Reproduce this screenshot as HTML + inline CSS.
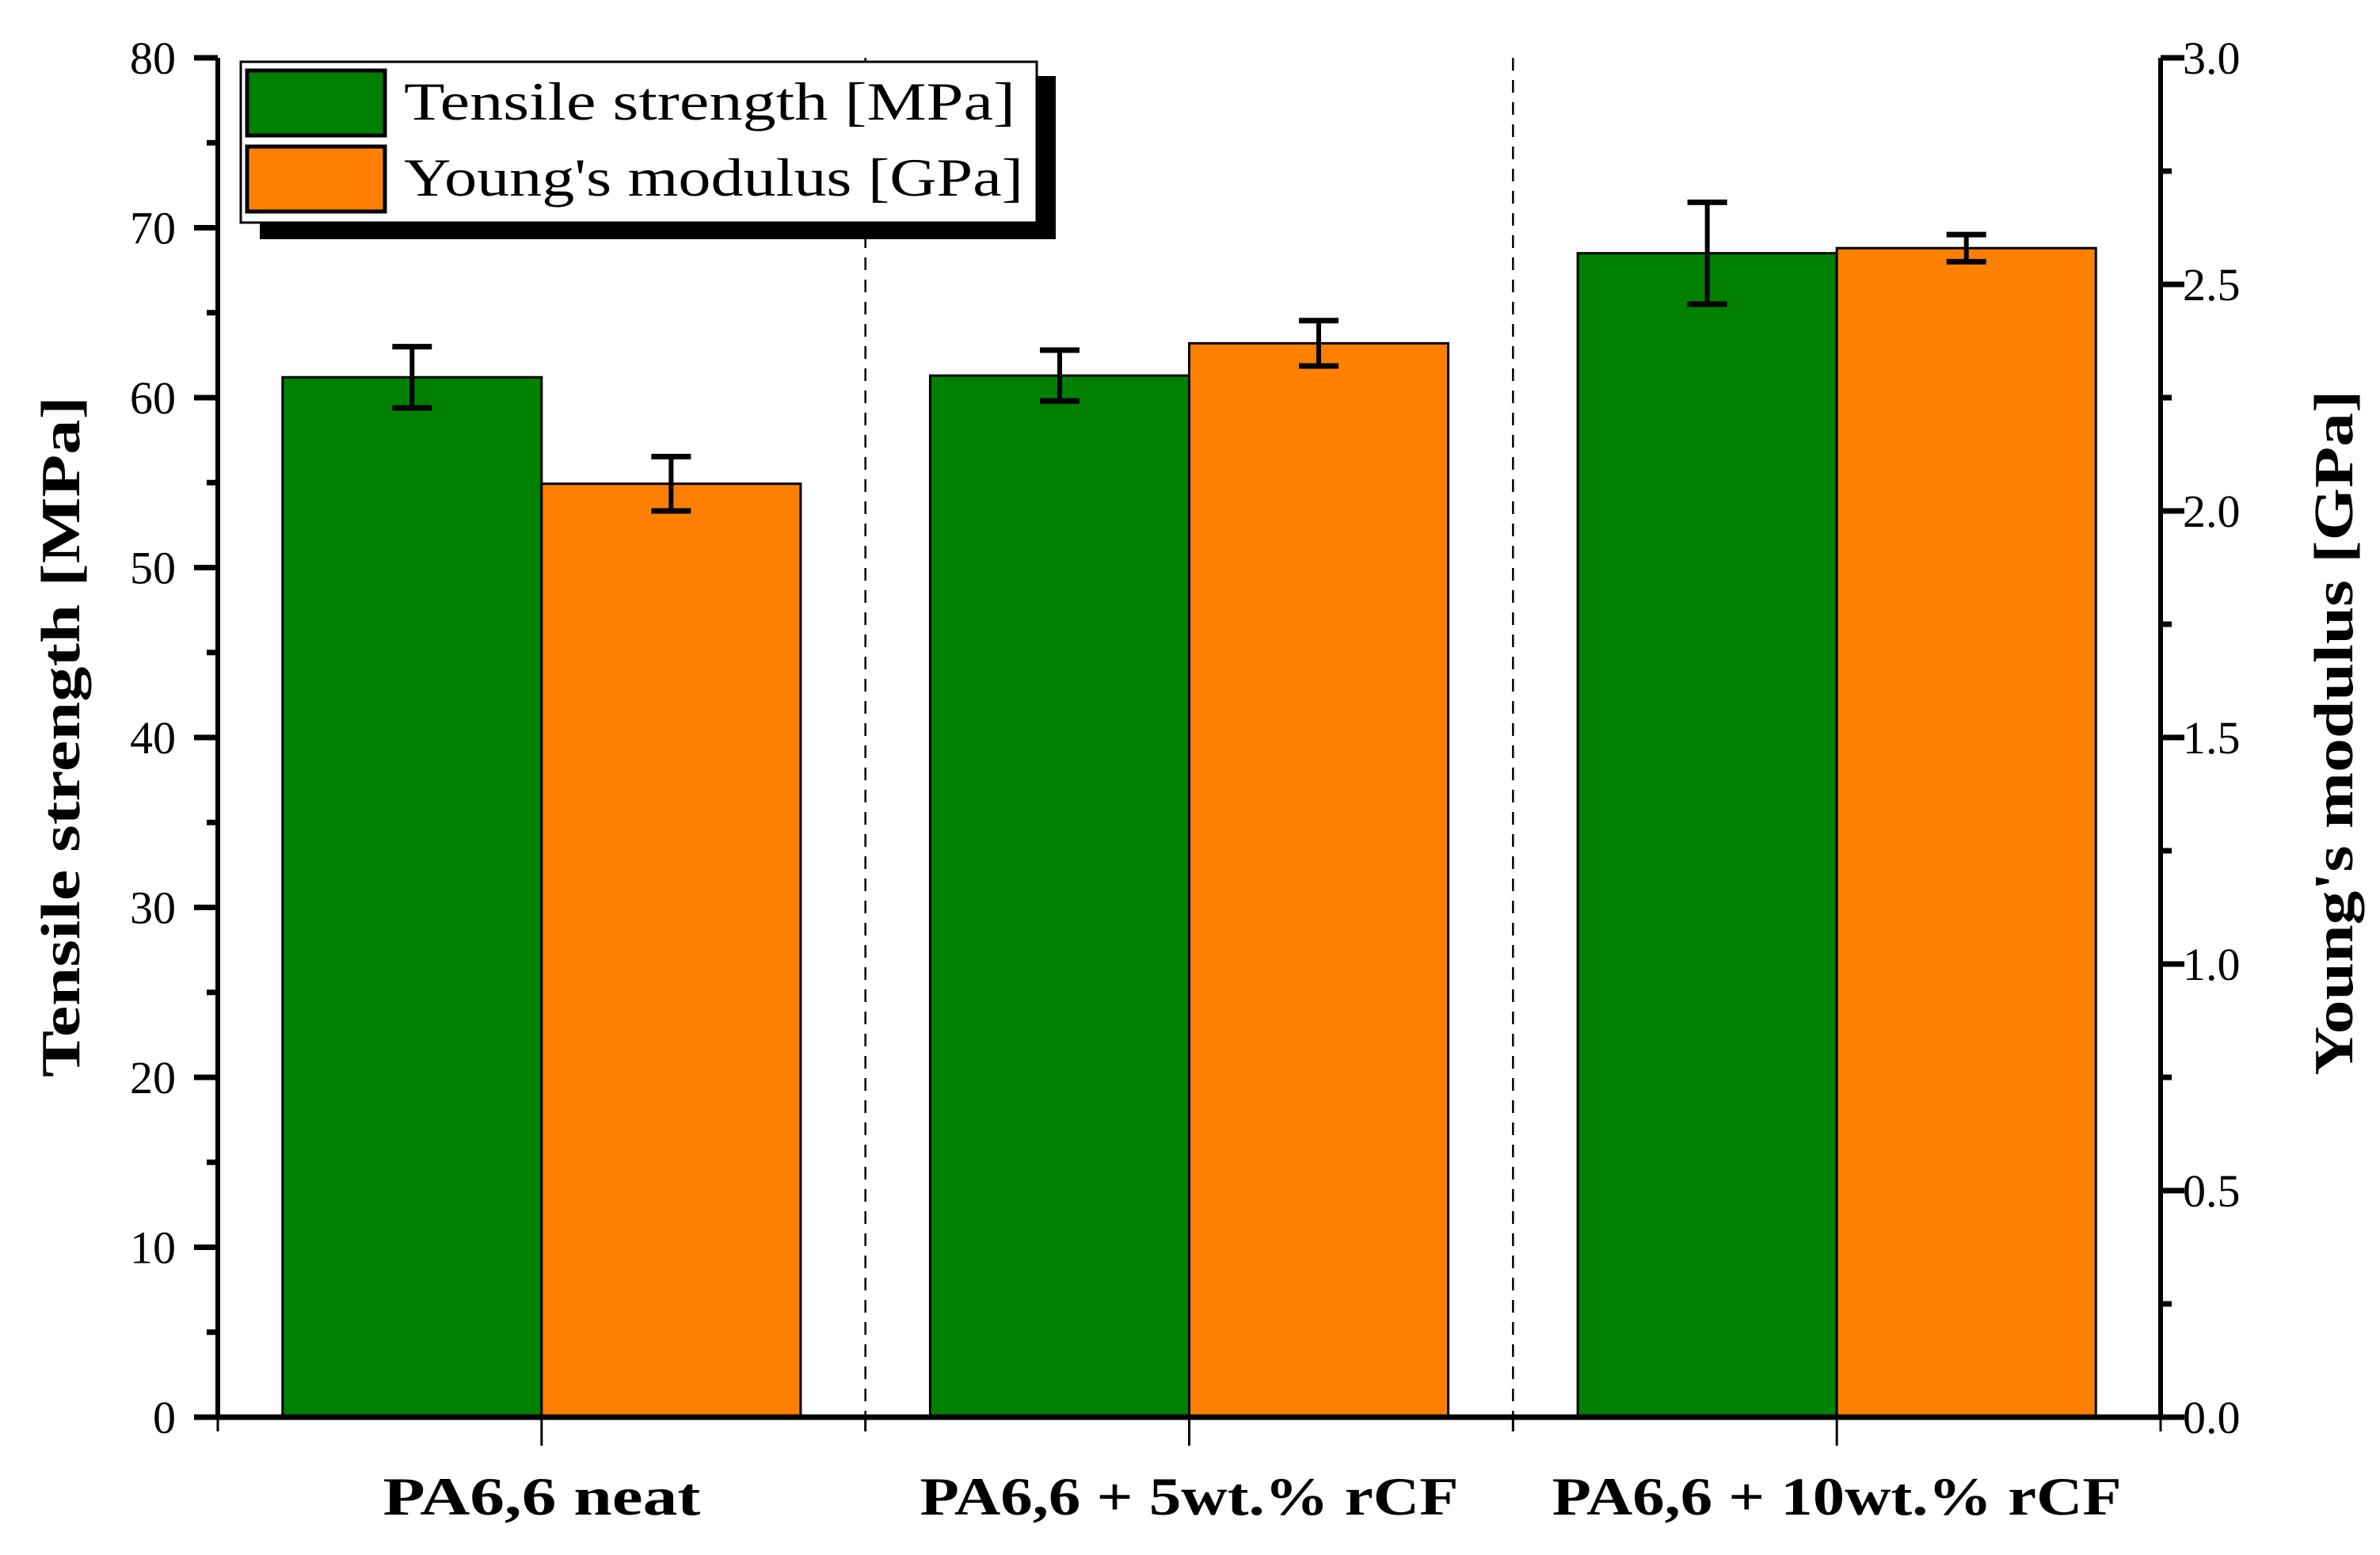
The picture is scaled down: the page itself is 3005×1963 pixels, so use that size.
<!DOCTYPE html>
<html><head><meta charset="utf-8"><style>
html,body{margin:0;padding:0;background:#fff;}
svg{display:block;font-family:"Liberation Serif","DejaVu Serif",serif;}
</style></head><body>
<svg id="chart" width="3005" height="1963" viewBox="0 0 3005 1963" xmlns="http://www.w3.org/2000/svg">
<g id="grid"></g>
<g id="bars"></g>
<g id="axes"></g>
<g id="legend"></g>
</svg>
<script>
const categories = ["PA6,6 neat", "PA6,6 + 5wt.% rCF", "PA6,6 + 10wt.% rCF"];
const tensile = [61.2, 61.3, 68.5];
const tensileErr = [1.8, 1.5, 3.0];
const modulus = [2.06, 2.37, 2.58];
const modulusErr = [0.06, 0.05, 0.03];
const leftTicks = [0,10,20,30,40,50,60,70,80];
const rightTicks = ["0.0","0.5","1.0","1.5","2.0","2.5","3.0"];

const NS = "http://www.w3.org/2000/svg";
const X0 = 275, X1 = 2728, Y0 = 1789, Y1 = 73;
const catW = (X1 - X0) / 3;
const labelLens = [401, 680, 719];
function xCat(i){ return X0 + catW * (i + 0.5); }
function yL(v){ return Y0 - (v / 80) * (Y0 - Y1); }
function yR(v){ return Y0 - (v / 3) * (Y0 - Y1); }
function mk(tag, attrs, parent){ const e = document.createElementNS(NS, tag); for (const k in attrs) e.setAttribute(k, attrs[k]); parent.appendChild(e); return e; }
const gGrid = document.getElementById('grid'), gBars = document.getElementById('bars'), gAxes = document.getElementById('axes'), gLeg = document.getElementById('legend');
const barW = catW * 0.4;

for (let i = 1; i < 3; i++) {
  const x = X0 + catW * i;
  const l = mk('line', {x1:x, x2:x, y1:Y1, y2:Y0, stroke:'#000', 'stroke-width':2.5, 'stroke-dasharray':'16,12'}, gGrid);
  
  
}

function errBar(x, top, bot, name){
  const g = mk('g', {}, gBars);
  
  
  mk('line', {x1:x, x2:x, y1:top, y2:bot, stroke:'#000', 'stroke-width':6}, g);
  mk('line', {x1:x-25, x2:x+25, y1:top, y2:top, stroke:'#000', 'stroke-width':7}, g);
  mk('line', {x1:x-25, x2:x+25, y1:bot, y2:bot, stroke:'#000', 'stroke-width':7}, g);
}

categories.forEach((c, i) => {
  const cx = xCat(i);
  const yt = yL(tensile[i]);
  const b1 = mk('rect', {x:cx - barW, y:yt, width:barW, height:Y0 - yt, fill:'#008000', stroke:'#000', 'stroke-width':3}, gBars);
  
  
  const ym = yR(modulus[i]);
  const b2 = mk('rect', {x:cx, y:ym, width:barW, height:Y0 - ym, fill:'#ff8000', stroke:'#000', 'stroke-width':3}, gBars);
  
  
  errBar(cx - barW/2, yL(tensile[i] + tensileErr[i]), yL(tensile[i] - tensileErr[i]), 'tensile-error-bar');
  errBar(cx + barW/2, yR(modulus[i] + modulusErr[i]), yR(modulus[i] - modulusErr[i]), 'modulus-error-bar');
  const t = mk('text', {x:cx, y:1912, 'text-anchor':'middle', 'font-size':68, 'font-weight':'bold', textLength:labelLens[i], lengthAdjust:'spacingAndGlyphs'}, gAxes);
  t.textContent = c;
  
  
});

mk('line', {x1:X0, x2:X0, y1:Y1, y2:Y0+3, stroke:'#000', 'stroke-width':6}, gAxes);
mk('line', {x1:X1, x2:X1, y1:Y1, y2:Y0+3, stroke:'#000', 'stroke-width':6}, gAxes);
mk('line', {x1:X0-30, x2:X1+30, y1:Y0, y2:Y0, stroke:'#000', 'stroke-width':7}, gAxes);

leftTicks.forEach(v => {
  const y = yL(v);
  mk('line', {x1:X0-30, x2:X0, y1:y, y2:y, stroke:'#000', 'stroke-width':7}, gAxes);
  if (v < 80) mk('line', {x1:X0-14, x2:X0, y1:yL(v+5), y2:yL(v+5), stroke:'#000', 'stroke-width':7}, gAxes);
  const t = mk('text', {x:222, y:y+20, 'text-anchor':'end', 'font-size':58}, gAxes);
  t.textContent = v;
  
  
});
rightTicks.forEach((s, i) => {
  const v = parseFloat(s);
  const y = yR(v);
  mk('line', {x1:X1, x2:X1+30, y1:y, y2:y, stroke:'#000', 'stroke-width':7}, gAxes);
  if (i < rightTicks.length - 1) mk('line', {x1:X1, x2:X1+14, y1:yR(v+0.25), y2:yR(v+0.25), stroke:'#000', 'stroke-width':7}, gAxes);
  const t = mk('text', {x:2756, y:y+20, 'text-anchor':'start', 'font-size':58}, gAxes);
  t.textContent = s;
  
  
});
for (let i = 0; i <= 3; i++) {
  const x = X0 + catW * i;
  mk('line', {x1:x, x2:x, y1:Y0, y2:Y0+18, stroke:'#000', 'stroke-width':3}, gAxes);
}
for (let i = 0; i < 3; i++) {
  const x = xCat(i);
  mk('line', {x1:x, x2:x, y1:Y0, y2:Y0+36, stroke:'#000', 'stroke-width':3}, gAxes);
}
const lt = mk('text', {x:0, y:0, transform:'translate(100,930) rotate(-90)', 'text-anchor':'middle', 'font-size':70, 'font-weight':'bold', textLength:860, lengthAdjust:'spacingAndGlyphs'}, gAxes);
lt.textContent = "Tensile strength [MPa]";


const rt = mk('text', {x:0, y:0, transform:'translate(2970,925) rotate(-90)', 'text-anchor':'middle', 'font-size':70, 'font-weight':'bold', textLength:865, lengthAdjust:'spacingAndGlyphs'}, gAxes);
rt.textContent = "Young's modulus [GPa]";



mk('rect', {x:328, y:96, width:1005, height:206, fill:'#000'}, gLeg);
const lb = mk('rect', {x:304, y:78, width:1005, height:203, fill:'#fff', stroke:'#000', 'stroke-width':3}, gLeg);


const items = [["Tensile strength [MPa]", '#008000', 772], ["Young's modulus [GPa]", '#ff8000', 782]];
items.forEach((it, i) => {
  const y = 89 + i * 96;
  const g = mk('g', {}, gLeg);
  
  
  mk('rect', {x:312, y:y, width:174, height:82, fill:it[1], stroke:'#000', 'stroke-width':5}, g);
  const t = mk('text', {x:510, y:y + 62, 'font-size':68, textLength:it[2], lengthAdjust:'spacingAndGlyphs'}, g);
  t.textContent = it[0];
});
</script>
</body></html>
